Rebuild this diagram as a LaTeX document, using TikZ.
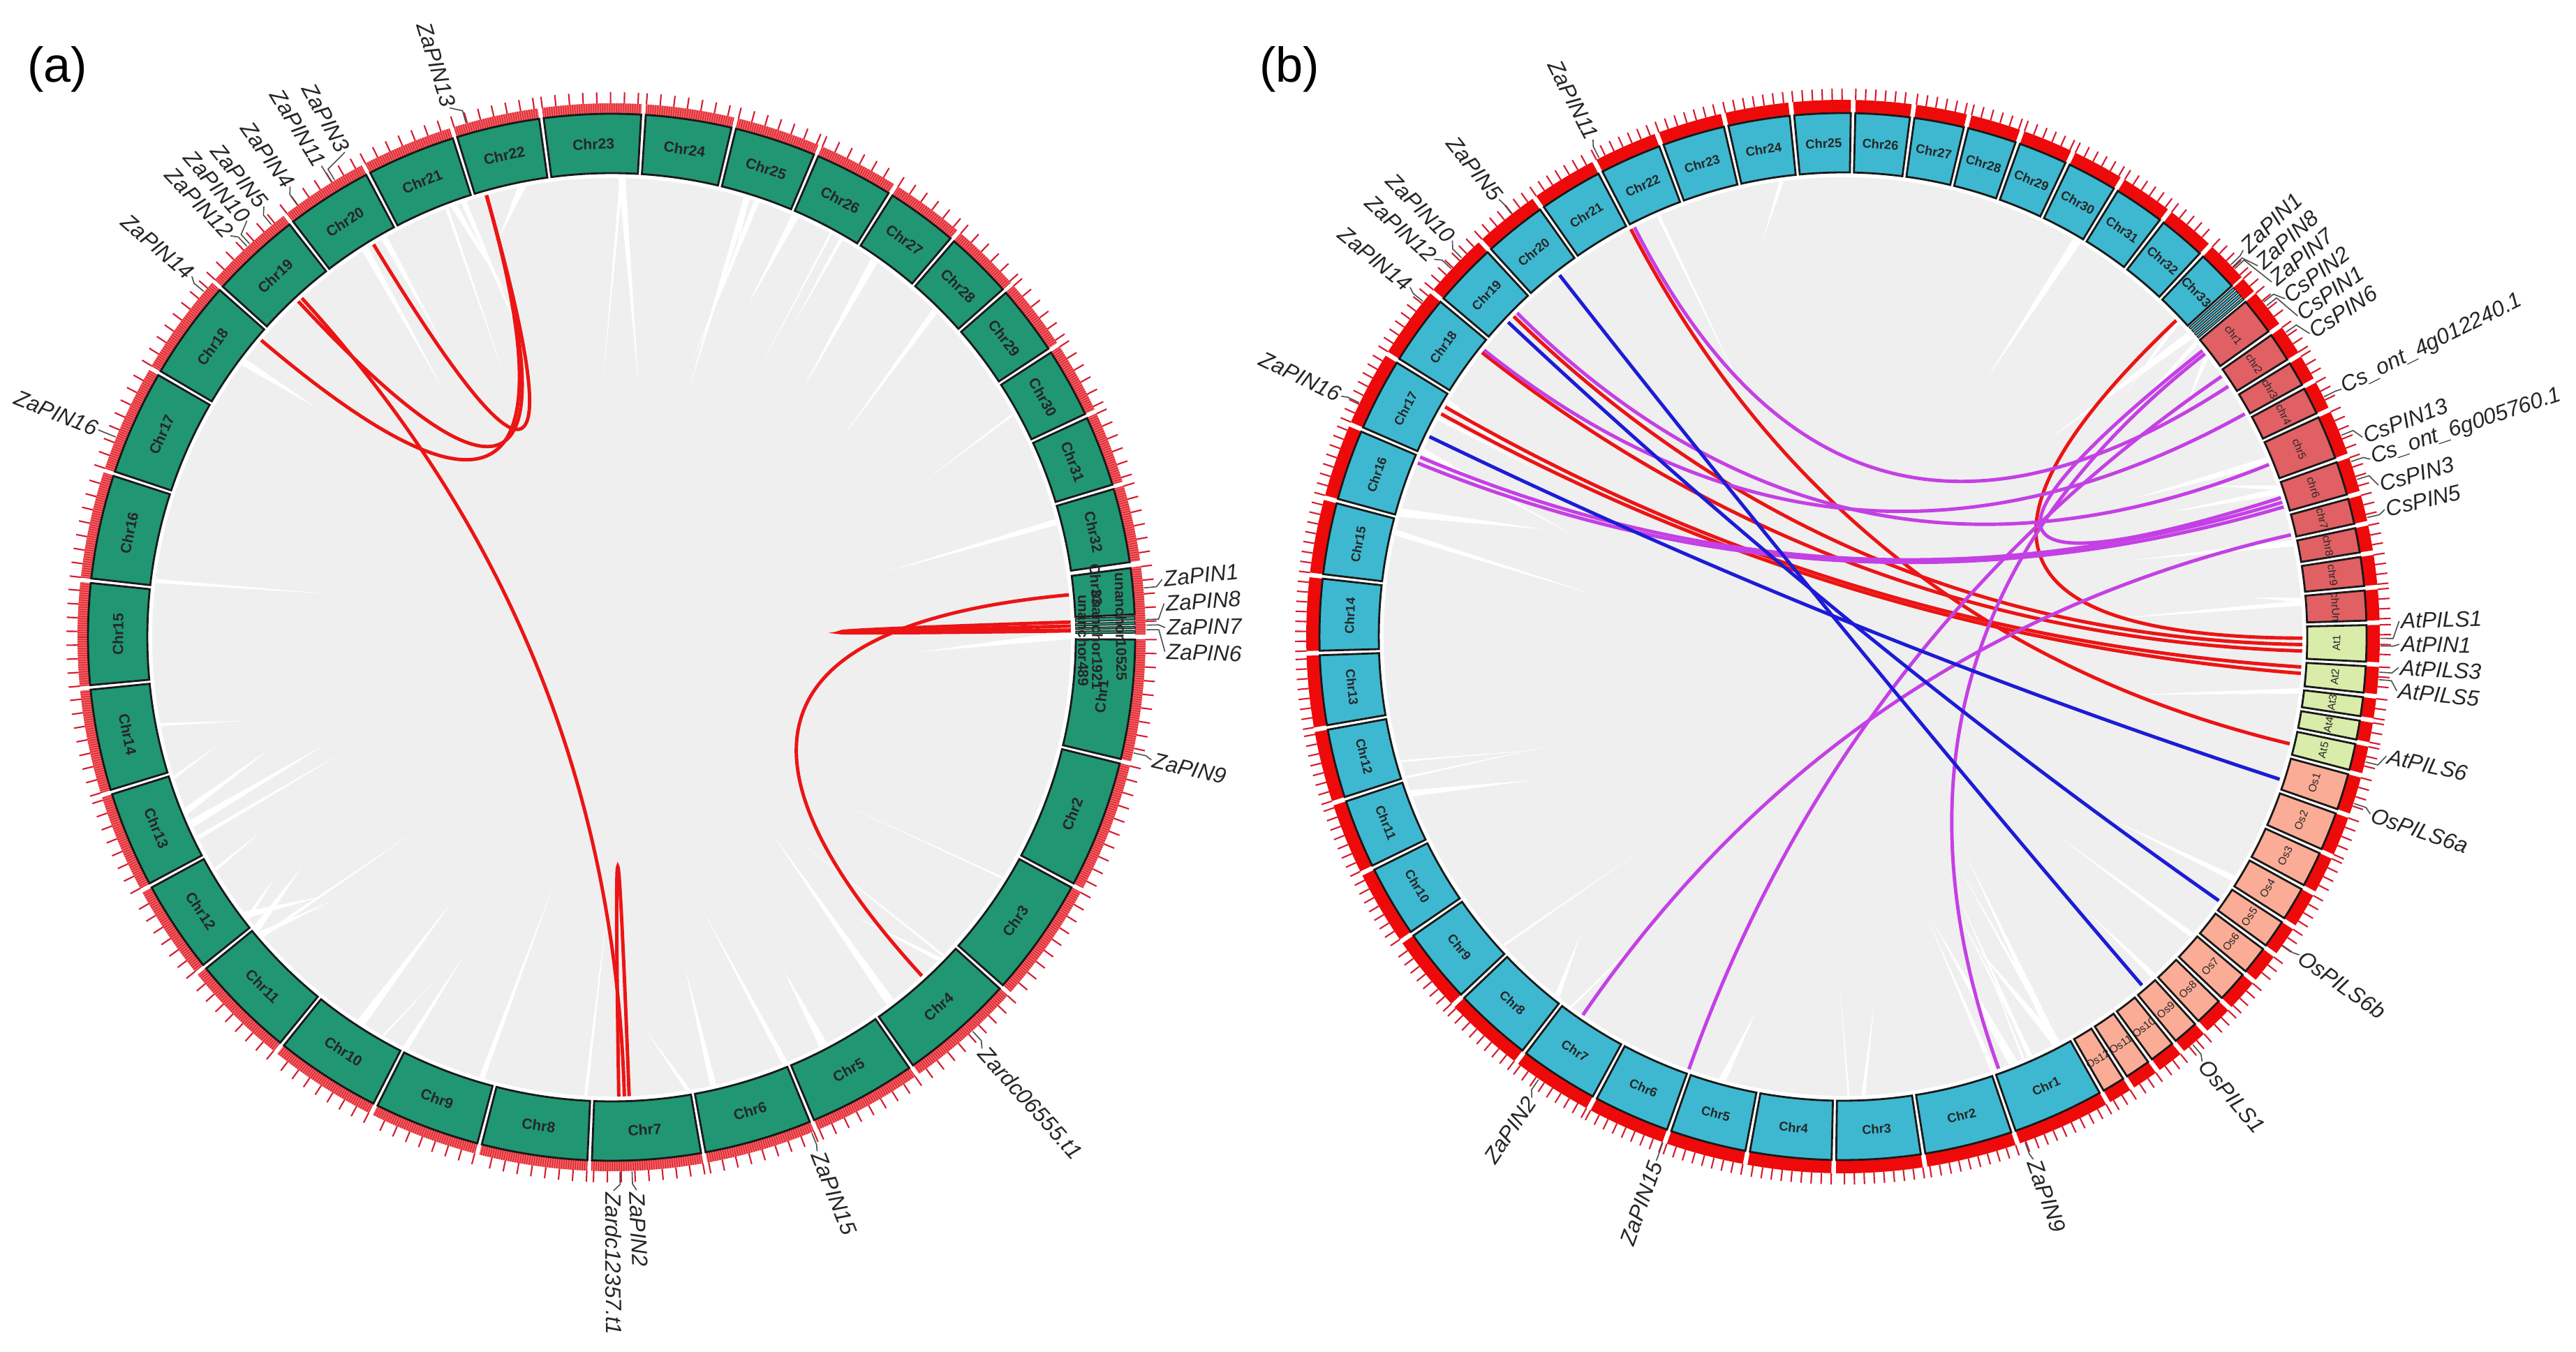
\documentclass[tikz,border=0pt]{standalone}
\usepackage{fontspec}
\setmainfont{Liberation Sans}
\usetikzlibrary{calc}
\definecolor{zagreen}{RGB}{33,150,114}
\definecolor{zablue}{RGB}{62,184,208}
\definecolor{csred}{RGB}{224,96,100}
\definecolor{atgreen}{RGB}{218,236,170}
\definecolor{ospink}{RGB}{250,172,150}
\definecolor{ribbon}{RGB}{239,239,239}
\definecolor{bandred}{RGB}{244,96,96}
\definecolor{bandredb}{RGB}{238,10,10}
\definecolor{tickred}{RGB}{214,28,48}
\definecolor{linkred}{RGB}{236,20,20}
\definecolor{linkmag}{RGB}{196,64,228}
\definecolor{linkblue}{RGB}{28,28,214}
\begin{document}
\begin{tikzpicture}[x=1cm,y=1cm]
	\def \rgray{6.58}
	\def \rctrl{2.19}
	\def \rin{6.65}
	\def \rlab{7.07}
	\def \rout{7.50}
	\def \rband{7.65}
	\def \rtick{7.81}
	\def \rlead{7.66}
	\def \rleadb{7.84}
	\def \rtext{7.93}
	\tikzstyle{chr-box}=[draw=black!90,line width=0.8pt]
	\tikzstyle{contig}=[draw=black!90,line width=0.35pt]
	\tikzstyle{chr-label}=[inner sep=0pt,text=black!85,font=\bfseries\fontsize{6}{7}\selectfont]
	\tikzstyle{small-label}=[inner sep=0pt,text=black!85,font=\fontsize{4.4}{5}\selectfont]
	\tikzstyle{band}=[fill=bandred]
	\tikzstyle{minor-tick}=[draw=tickred,line width=0.3pt]
	\tikzstyle{major-tick}=[draw=tickred,line width=0.6pt]
	\tikzstyle{leader}=[draw=black!70,line width=0.45pt]
	\tikzstyle{gene}=[inner sep=0.5pt,text=black!85,font=\itshape\fontsize{9}{10}\selectfont]
	\tikzstyle{tag}=[font=\fontsize{20}{24}\selectfont]
	\tikzstyle{red-link}=[draw=linkred,line width=1.4pt]
	\tikzstyle{mag-link}=[draw=linkmag,line width=1.4pt]
	\tikzstyle{blue-link}=[draw=linkblue,line width=1.4pt]
	% ring segment: start, end, fill, label options, name, text
	\def\chrseg#1#2#3#4#5#6{%
		\draw[chr-box,fill=#3] (#1:\rin) arc[start angle=#1,end angle=#2,radius=\rin]
			-- (#2:\rout) arc[start angle=#2,end angle=#1,radius=\rout] -- cycle;
		\pgfmathsetmacro\segmid{(#1+(#2))/2}
		\pgfmathsetmacro\segrot{sin(\segmid)>=0 ? \segmid-90 : \segmid+90}
		\node[#4,rotate=\segrot] (#5) at (\segmid:\rlab) {#6};
	}
	% thin unanchored contig
	\def\contig#1#2#3{%
		\draw[contig,fill=#3] (#1:\rin) arc[start angle=#1,end angle=#2,radius=\rin]
			-- (#2:\rout) arc[start angle=#2,end angle=#1,radius=\rout] -- cycle;
	}
	% tick band: start, end, major step, minor step
	\def\chrticks#1#2#3#4{%
		\fill[band] (#1:\rout) arc[start angle=#1,end angle=#2,radius=\rout]
			-- (#2:\rband) arc[start angle=#2,end angle=#1,radius=\rband] -- cycle;
		\ifdim #4pt>0pt
			\pgfmathtruncatemacro\nmin{(#1-(#2))/#4}
			\foreach \k in {0,...,\nmin}
				\draw[minor-tick] ({#1-\k*#4}:\rout) -- ({#1-\k*#4}:\rband);
		\fi
		\pgfmathtruncatemacro\nmaj{(#1-(#2))/#3}
		\foreach \k in {0,...,\nmaj}
			\draw[major-tick] ({#1-\k*#3}:\rband) -- ({#1-\k*#3}:\rtick);
	}
	% gene label: name, gene angle, label angle, text
	\def\genelabel#1#2#3#4{%
		\coordinate (#1-g) at (#2:\rlead);
		\pgfmathsetmacro\gc{cos(#3)}
		\ifdim\gc pt<0pt
			\node[gene,anchor=east,rotate=#3+180] (#1) at (#3:\rtext) {#4};
			\draw[leader] (#1-g) -- (#2:\rleadb) -- (#1.east);
		\else
			\node[gene,anchor=west,rotate=#3] (#1) at (#3:\rtext) {#4};
			\draw[leader] (#1-g) -- (#2:\rleadb) -- (#1.west);
		\fi
	}
	% link: style, name, from, to
	\def\chordlink#1#2#3#4{%
		\coordinate (#2-s) at (#3:\rgray);
		\coordinate (#2-e) at (#4:\rgray);
		\draw[#1] (#2-s) .. controls (#3:\rctrl) and (#4:\rctrl) .. (#2-e);
	}
	% white gaps between ribbons
	\def\streaks#1#2{%
		\pgfmathsetseed{#1}
		\foreach \k in {1,...,#2}{
			\pgfmathsetmacro\st{360*rnd}
			\pgfmathsetmacro\sw{0.12+0.45*rnd}
			\pgfmathsetmacro\sr{3.6+2.4*rnd}
			\pgfmathsetmacro\sd{\st+10*(rnd-0.5)}
			\fill[white] ({\st-\sw}:\rgray) -- ({\st+\sw}:\rgray) -- (\sd:\sr) -- cycle;
		}
	}

	\useasboundingbox (0,0) rectangle (36.9,19.36);
	\fill[white] (0,0) rectangle (36.9,19.36);

	\coordinate (a-center) at (8.76,10.23);
	\coordinate (b-center) at (26.40,10.24);

	% panel tags
	\node[tag] (a-tag) at (0.82,18.37) {(a)};
	\node[tag] (b-tag) at (18.47,18.37) {(b)};

	% (a) collinearity within Z. armatum
	\begin{scope}[shift={(a-center)}]
		\fill[ribbon] (0,0) circle[radius=\rgray];
		\streaks{11}{45}
		% links
		\chordlink{red-link}{a-l1}{105.8}{121.2}
		\chordlink{red-link}{a-l2}{105.8}{133.0}
		\chordlink{red-link}{a-l3}{105.8}{139.7}
		\chordlink{red-link}{a-l4}{132.4}{-88.4}
		\chordlink{red-link}{a-l5}{-87.8}{-89.1}
		\chordlink{red-link}{a-l6}{5.3}{-47.5}
		\chordlink{red-link}{a-l7}{1.9}{0.8}
		\chordlink{red-link}{a-l8}{1.4}{0.9}
		% chromosomes
		\foreach \s/\e/\n in {0/-13.7/1, -13.7/-28.3/2, -28.3/-41.9/3, -41.9/-55.1/4,
			-55.1/-67.5/5, -67.5/-79.9/6, -79.9/-92.4/7, -92.4/-104.6/8, -104.6/-116.8/9,
			-116.8/-129/10, -129/-141/11, -141/-151.7/12, -151.7/-162.8/13, -162.8/-174.5/14,
			-174.5/-186.2/15, -186.2/-198.2/16, -198.2/-210.3/17, -210.3/-221.8/18,
			-221.8/-232.3/19, -232.3/-242.3/20, -242.3/-252.6/21, -252.6/-262.3/22,
			-262.3/-273.5/23, -273.5/-283.5/24, -283.5/-293/25, -293/-302.2/26,
			-302.2/-310.6/27, -310.6/-318.6/28, -318.6/-326.8/29, -326.8/-335/30,
			-335/-343.3/31, -343.3/-352/32}{
			\pgfmathsetmacro\sa{\s-0.25}
			\pgfmathsetmacro\ea{\e+0.25}
			\chrticks{\sa}{\ea}{1.47}{0.25}
			\chrseg{\sa}{\ea}{zagreen}{chr-label}{a-chr\n}{Chr\n}
		}
		% chr33 and unanchored contigs
		\chrticks{7.6}{0.3}{1.47}{0.25}
		\chrseg{7.6}{2.5}{zagreen}{chr-label}{a-chr33}{}
		\contig{2.3}{1.9}{zagreen}
		\contig{1.7}{1.4}{zagreen}
		\contig{1.2}{0.95}{zagreen}
		\contig{0.75}{0.45}{zagreen}
		\node[chr-label,rotate=-86] (a-chr33-t) at (6.2:6.98) {Chr33};
		\node[chr-label,rotate=-89] (a-un1-t) at (1.2:7.30) {unanchor10525};
		\node[chr-label,rotate=-90] (a-un2-t) at (-0.3:6.96) {unanchor1921};
		\node[chr-label,rotate=-90] (a-un3-t) at (-0.4:6.76) {unanchor489};
		% gene labels
		\genelabel{a-zapin13}{105.8}{107}{ZaPIN13}
		\genelabel{a-zapin3}{121.2}{118.8}{ZaPIN3}
		\genelabel{a-zapin11}{121.6}{121.6}{ZaPIN11}
		\genelabel{a-zapin4}{126}{125.5}{ZaPIN4}
		\genelabel{a-zapin5}{129.5}{128.9}{ZaPIN5}
		\genelabel{a-zapin10}{132.6}{131.2}{ZaPIN10}
		\genelabel{a-zapin12}{133}{133.5}{ZaPIN12}
		\genelabel{a-zapin14}{139.7}{139.3}{ZaPIN14}
		\genelabel{a-zapin16}{158}{158}{ZaPIN16}
		\genelabel{a-zapin1}{5.3}{6.0}{ZaPIN1}
		\genelabel{a-zapin8}{1.9}{3.5}{ZaPIN8}
		\genelabel{a-zapin7}{1.3}{1.0}{ZaPIN7}
		\genelabel{a-zapin6}{0.8}{-1.5}{ZaPIN6}
		\genelabel{a-zapin9}{-12.5}{-12.8}{ZaPIN9}
		\genelabel{a-zardc6555}{-47.5}{-48}{Zardc06555.t1}
		\genelabel{a-zapin15}{-68}{-68.2}{ZaPIN15}
		\genelabel{a-zapin2}{-87.8}{-87.4}{ZaPIN2}
		\genelabel{a-zardc12357}{-89.1}{-89.8}{Zardc12357.t1}
	\end{scope}

	% (b) collinearity with C. sinensis, A. thaliana and O. sativa
	\begin{scope}[shift={(b-center)}]
		\def \rband{7.69}
		\def \rtick{7.85}
		\def \rlead{7.70}
		\def \rleadb{7.88}
		\def \rtext{7.97}
		\tikzstyle{band}=[fill=bandredb]
		\tikzstyle{chr-label}=[inner sep=0pt,text=black!85,font=\bfseries\fontsize{5.2}{6}\selectfont]
		\fill[ribbon] (0,0) circle[radius=\rgray];
		\streaks{23}{40}
		% links to A. thaliana
		\chordlink{red-link}{b-r1}{117.5}{-13.5}
		\chordlink{red-link}{b-r2}{135.8}{-1.0}
		\chordlink{red-link}{b-r3}{141.8}{-1.8}
		\chordlink{red-link}{b-r4}{150}{-3.8}
		\chordlink{red-link}{b-r5}{151}{-4.6}
		\chordlink{red-link}{b-r6}{43.5}{-0.2}
		% links to C. sinensis
		\chordlink{mag-link}{b-m1}{117}{33}
		\chordlink{mag-link}{b-m2}{135.2}{22}
		\chordlink{mag-link}{b-m3}{141.4}{29}
		\chordlink{mag-link}{b-m4}{157}{17}
		\chordlink{mag-link}{b-m5}{157.8}{16.4}
		\chordlink{mag-link}{b-m6}{-124.5}{12.8}
		\chordlink{mag-link}{b-m7}{-109.6}{34.5}
		\chordlink{mag-link}{b-m8}{-70.2}{38}
		\chordlink{mag-link}{b-m9}{38.5}{17.6}
		% links to O. sativa
		\chordlink{blue-link}{b-b1}{128.1}{-49.4}
		\chordlink{blue-link}{b-b2}{136.8}{-35.1}
		\chordlink{blue-link}{b-b3}{154.2}{-18.1}
		% Z. armatum chromosomes
		\foreach \s/\e/\n in {-60.4/-71/1, -71/-81.2/2, -81.2/-91/3, -91/-100.5/4,
			-100.5/-109.4/5, -109.4/-118.3/6, -118.3/-127.5/7, -127.5/-136.6/8,
			-136.6/-145.4/9, -145.4/-153.8/10, -153.8/-161.9/11, -161.9/-170/12,
			-170/-178.2/13, -178.2/-186.6/14, -186.6/-195/15, -195/-203.3/16,
			-203.3/-211.8/17, -211.8/-220/18, -220/-227.5/19, -227.5/-234.9/20,
			-234.9/-242.4/21, -242.4/-249.7/22, -249.7/-257.1/23, -257.1/-264.4/24,
			-264.4/-271.1/25, -271.1/-277.6/26, -277.6/-283.6/27, -283.6/-289.5/28,
			-289.5/-295.4/29, -295.4/-301.4/30, -301.4/-307.5/31, -307.5/-313.2/32,
			-313.2/-318.2/33}{
			\pgfmathsetmacro\sa{\s-0.25}
			\pgfmathsetmacro\ea{\e+0.25}
			\chrticks{\sa}{\ea}{1.05}{0}
			\chrseg{\sa}{\ea}{zablue}{chr-label}{b-chr\n}{Chr\n}
		}
		\chrticks{41.8}{40.05}{1.05}{0}
		\contig{41.8}{41.5}{zablue}
		\contig{41.3}{41.0}{zablue}
		\contig{40.8}{40.5}{zablue}
		\contig{40.3}{40.05}{zablue}
		% C. sinensis chromosomes
		\foreach \s/\e/\n in {40/35.4/1, 35.4/31.7/2, 31.7/28.5/3, 28.5/25/4, 25/19.7/5,
			19.7/15.5/6, 15.5/12.2/7, 12.2/9/8, 9/5.3/9, 5.3/1.5/Un}{
			\pgfmathsetmacro\sa{\s-0.25}
			\pgfmathsetmacro\ea{\e+0.25}
			\chrticks{\sa}{\ea}{1.05}{0}
			\chrseg{\sa}{\ea}{csred}{small-label}{b-cs\n}{chr\n}
		}
		% A. thaliana chromosomes
		\foreach \s/\e/\n in {1.5/-3/1, -3/-6.4/2, -6.4/-9/3, -9/-11.6/4, -11.6/-15/5}{
			\pgfmathsetmacro\sa{\s-0.25}
			\pgfmathsetmacro\ea{\e+0.25}
			\chrticks{\sa}{\ea}{1.05}{0}
			\chrseg{\sa}{\ea}{atgreen}{small-label}{b-at\n}{At\n}
		}
		% O. sativa chromosomes
		\foreach \s/\e/\n in {-15/-19.5/1, -19.5/-24.2/2, -24.2/-28.6/3, -28.6/-32.8/4,
			-32.8/-36.4/5, -36.4/-40/6, -40/-43.9/7, -43.9/-47.5/8, -47.5/-50.8/9,
			-50.8/-54.1/10, -54.1/-57.4/11, -57.4/-60.4/12}{
			\pgfmathsetmacro\sa{\s-0.25}
			\pgfmathsetmacro\ea{\e+0.25}
			\chrticks{\sa}{\ea}{1.05}{0}
			\chrseg{\sa}{\ea}{ospink}{small-label}{b-os\n}{Os\n}
		}
		% gene labels
		\genelabel{b-zapin11}{117}{116.7}{ZaPIN11}
		\genelabel{b-zapin5}{128.1}{128.2}{ZaPIN5}
		\genelabel{b-zapin10}{135.2}{134.6}{ZaPIN10}
		\genelabel{b-zapin12}{136.8}{137.3}{ZaPIN12}
		\genelabel{b-zapin14}{141.4}{141.1}{ZaPIN14}
		\genelabel{b-zapin16}{154.2}{154.4}{ZaPIN16}
		\genelabel{b-zapin2}{-124.5}{-124}{ZaPIN2}
		\genelabel{b-zapin15}{-109.6}{-109.6}{ZaPIN15}
		\genelabel{b-zapin9}{-70.2}{-70}{ZaPIN9}
		\genelabel{b-zapin1}{43.8}{44.0}{ZaPIN1}
		\genelabel{b-zapin8}{43.5}{41.8}{ZaPIN8}
		\genelabel{b-zapin7}{43.2}{39.6}{ZaPIN7}
		\genelabel{b-cspin2}{38.5}{37.4}{CsPIN2}
		\genelabel{b-cspin1}{38}{35.2}{CsPIN1}
		\genelabel{b-cspin6}{34.5}{33.0}{CsPIN6}
		\genelabel{b-csont4}{26.5}{26.4}{Cs\_ont\_4g012240.1}
		\genelabel{b-cspin13}{22}{21.0}{CsPIN13}
		\genelabel{b-csont6}{19}{18.6}{Cs\_ont\_6g005760.1}
		\genelabel{b-cspin3}{17}{15.8}{CsPIN3}
		\genelabel{b-cspin5}{12.8}{13.2}{CsPIN5}
		\genelabel{b-atpils1}{-0.2}{1.6}{AtPILS1}
		\genelabel{b-atpin1}{-1}{-0.8}{AtPIN1}
		\genelabel{b-atpils3}{-3.8}{-3.2}{AtPILS3}
		\genelabel{b-atpils5}{-4.6}{-5.6}{AtPILS5}
		\genelabel{b-atpils6}{-13.5}{-12.4}{AtPILS6}
		\genelabel{b-ospils6a}{-18.1}{-18.6}{OsPILS6a}
		\genelabel{b-ospils6b}{-35.1}{-34.9}{OsPILS6b}
		\genelabel{b-ospils1}{-49.4}{-49.8}{OsPILS1}
	\end{scope}
\end{tikzpicture}
\end{document}
